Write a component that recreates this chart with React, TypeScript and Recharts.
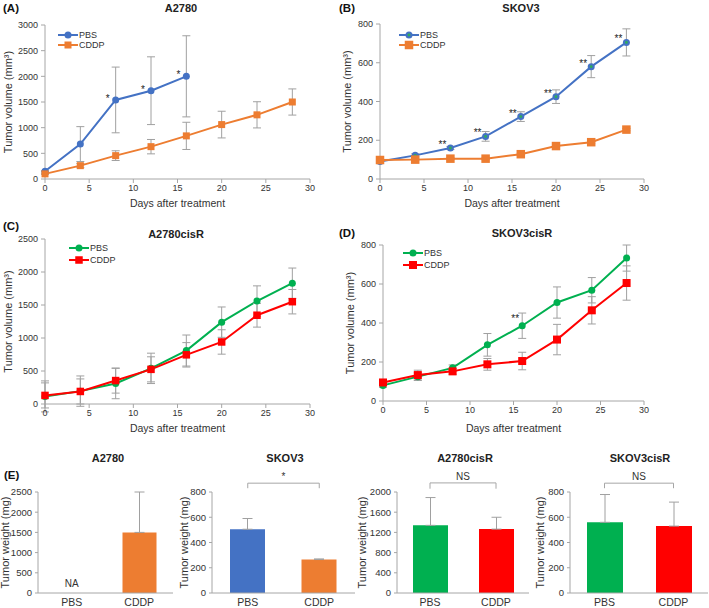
import React from "react";
import {
  LineChart,
  Line,
  XAxis,
  YAxis,
  ErrorBar,
  LabelList,
  Legend,
  BarChart,
  Bar,
  Cell,
  ReferenceLine,
  ReferenceDot,
} from "recharts";

const FONT = '"Liberation Sans", Arial, sans-serif';
const BLUE = "#4472C4";
const ORANGE = "#ED7D31";
const GREEN = "#00B050";
const RED = "#FF0000";
const AXIS = "#a6a6a6";
const ERR = "#a0a0a0";

// x values (days after treatment)
const days = [0, 4, 8, 12, 16, 20, 24, 28];
const dayTicks = [0, 5, 10, 15, 20, 25, 30];

// (A) A2780
const a2780Pbs = [150, 680, 1540, 1720, 2000, null, null, null];
const a2780PbsErr = [10, 340, 640, 660, 790, null, null, null];
const a2780Sig = ["", "", "*", "*", "*", "", "", ""];
const a2780Cddp = [100, 260, 455, 630, 840, 1060, 1250, 1500];
const a2780CddpErr = [10, 40, 95, 140, 265, 260, 255, 255];

// (B) SKOV3
const skov3Pbs = [90, 122, 160, 220, 322, 425, 580, 705];
const skov3PbsErr = [5, 8, 8, 25, 25, 35, 57, 70];
const skov3Sig = ["", "", "**", "**", "**", "**", "**", "**"];
const skov3Cddp = [98, 100, 105, 105, 128, 170, 190, 255];
const skov3CddpErr = [5, 5, 5, 5, 5, 6, 6, 6];

// (C) A2780cisR
const a2780cisPbs = [115, 195, 310, 540, 810, 1240, 1560, 1830];
const a2780cisPbsErr = [235, 230, 230, 230, 235, 230, 230, 230];
const a2780cisCddp = [130, 190, 355, 525, 745, 940, 1345, 1550];
const a2780cisCddpErr = [190, 190, 190, 190, 185, 185, 180, 185];

// (D) SKOV3cisR
const skov3cisPbs = [80, 125, 170, 288, 386, 505, 568, 733];
const skov3cisPbsErr = [10, 20, 15, 58, 65, 80, 65, 67];
const skov3cisSig = ["", "", "", "", "**", "", "", ""];
const skov3cisCddp = [95, 133, 152, 188, 205, 315, 465, 605];
const skov3cisCddpErr = [10, 25, 15, 30, 45, 78, 70, 88];

// (E) tumor weight
const groups = ["PBS", "CDDP"];
const wA2780 = [null, 1500];
const wA2780Err = [null, 1000];
const wSkov3 = [505, 265];
const wSkov3Err = [85, 5];
const wA2780cis = [1340, 1265];
const wA2780cisErr = [550, 235];
const wSkov3cis = [560, 530];
const wSkov3cisErr = [220, 190];

const range = (max: number, step: number) => {
  const out: number[] = [];
  for (let v = 0; v <= max; v += step) out.push(v);
  return out;
};

const circleDot = (color: string, r: number, inner?: string) => (p: any) => {
  if (typeof p.cy !== "number" || isNaN(p.cy) || p.value == null)
    return <g key={`c${p.index}`} />;
  return (
    <g key={`c${p.index}`}>
      <circle cx={p.cx} cy={p.cy} r={r} fill={color} />
      {inner && <circle cx={p.cx} cy={p.cy} r={r * 0.4} fill={inner} />}
    </g>
  );
};

const squareDot = (color: string, s: number) => (p: any) => {
  if (typeof p.cy !== "number" || isNaN(p.cy) || p.value == null)
    return <g key={`s${p.index}`} />;
  return <rect key={`s${p.index}`} x={p.cx - s / 2} y={p.cy - s / 2} width={s} height={s} fill={color} />;
};

const LegendBox = ({ pbsColor, cddpColor, r, s, row, inner }: any) => (
  <div style={{ fontFamily: FONT, fontSize: 9, lineHeight: `${row}px`, color: "#333" }}>
    {[
      { name: "PBS", color: pbsColor, kind: "c" },
      { name: "CDDP", color: cddpColor, kind: "s" },
    ].map((it) => (
      <div key={it.name} style={{ display: "flex", alignItems: "center", height: row, overflow: "visible" }}>
        <svg width={20} height={row} style={{ display: "block", overflow: "visible" }}>
          <line x1={0} x2={20} y1={row / 2} y2={row / 2} stroke={it.color} strokeWidth={2} />
          {it.kind === "c" ? (
            <>
              <circle cx={10} cy={row / 2} r={r} fill={it.color} />
              {inner && <circle cx={10} cy={row / 2} r={r * 0.4} fill={inner} />}
            </>
          ) : (
            <rect x={10 - s / 2} y={row / 2 - s / 2} width={s} height={s} fill={it.color} />
          )}
        </svg>
        <span style={{ marginLeft: 1, lineHeight: `${row}px`, height: row }}>{it.name}</span>
      </div>
    ))}
  </div>
);

const LinePanel = (c: any) => {
  const rows = days.map((d, i) => ({
    day: d,
    pbs: c.pbs[i],
    pbsErr: c.pbsErr[i],
    cddp: c.cddp[i],
    cddpErr: c.cddpErr[i],
    sig: c.sig ? c.sig[i] : "",
  }));
  const tick = { fontSize: 9, fill: "#333", fontFamily: FONT };
  return (
    <div style={{ position: "absolute", left: c.left, top: c.top }}>
      <LineChart width={c.width} height={c.height} data={rows} margin={c.margin}>
        <XAxis
          type="number"
          dataKey="day"
          domain={[0, 30]}
          ticks={dayTicks}
          height={30}
          stroke={AXIS}
          tickSize={4}
          tickMargin={2}
          tick={tick}
          label={{
            value: "Days after treatment",
            position: "insideBottom",
            offset: c.xLabelOffset,
            style: { fontSize: 10.5, fill: "#333", fontFamily: FONT },
          }}
        />
        <YAxis
          domain={[0, c.yMax]}
          ticks={c.yTicks}
          allowDataOverflow
          width={c.yWidth}
          stroke={AXIS}
          tickSize={4}
          tickMargin={3}
          tick={tick}
          label={{
            value: "Tumor volume (mm³)",
            angle: -90,
            position: "insideLeft",
            offset: c.yLabelOffset,
            style: { textAnchor: "middle", fontSize: 11, fill: "#333", fontFamily: FONT },
          }}
        />
        <Legend
          layout="vertical"
          align="center"
          verticalAlign="middle"
          wrapperStyle={{ left: c.legendLeft, top: c.legendTop, width: "auto", height: "auto" }}
          content={() => (
            <LegendBox
              pbsColor={c.pbsColor}
              cddpColor={c.cddpColor}
              r={c.circleR}
              s={c.squareS}
              row={c.legendRow}
              inner={c.pbsInner}
            />
          )}
        />
        <Line
          dataKey="pbs"
          stroke={c.pbsColor}
          strokeWidth={2}
          dot={circleDot(c.pbsColor, c.circleR, c.pbsInner)}
          activeDot={false}
          isAnimationActive={false}
        >
          <ErrorBar dataKey="pbsErr" direction="y" width={4} stroke={ERR} strokeWidth={1} />
          <LabelList
            dataKey="sig"
            content={(p: any) =>
              p.value ? (
                <text
                  key={`sig${p.index}`}
                  x={p.x + c.starDx}
                  y={p.y + c.starDy}
                  textAnchor="middle"
                  fontSize={10}
                  fontFamily={FONT}
                  fill="#222"
                >
                  {p.value}
                </text>
              ) : null
            }
          />
        </Line>
        <Line
          dataKey="cddp"
          stroke={c.cddpColor}
          strokeWidth={2}
          dot={squareDot(c.cddpColor, c.squareS)}
          activeDot={false}
          isAnimationActive={false}
        >
          <ErrorBar dataKey="cddpErr" direction="y" width={4} stroke={ERR} strokeWidth={1} />
        </Line>
      </LineChart>
    </div>
  );
};

const BarPanel = (c: any) => {
  const rows = groups.map((g, i) => ({
    group: g,
    value: c.values[i],
    err: c.values[i] == null ? null : [0, c.errs[i]],
  }));
  const labelStyle = { fontSize: 10, fill: "#333", fontFamily: FONT };
  return (
    <div style={{ position: "absolute", left: c.left, top: c.top }}>
      <BarChart width={c.width} height={c.height} data={rows} margin={c.margin}>
        <XAxis
          dataKey="group"
          height={15}
          stroke={AXIS}
          tickLine={false}
          tickSize={4}
          tickMargin={2}
          tick={{ fontSize: 10.5, fill: "#333", fontFamily: FONT }}
        />
        <YAxis
          domain={[0, c.yMax]}
          ticks={c.yTicks}
          allowDataOverflow
          width={c.yWidth}
          stroke={AXIS}
          tickSize={3}
          tickMargin={3}
          tick={{ fontSize: 9.5, fill: "#333", fontFamily: FONT }}
          label={{
            value: "Tumor weight (mg)",
            angle: -90,
            position: "insideLeft",
            offset: c.yLabelOffset,
            style: { textAnchor: "middle", fontSize: 11, fill: "#333", fontFamily: FONT },
          }}
        />
        <Bar dataKey="value" barSize={c.barSize} isAnimationActive={false}>
          {rows.map((r, i) => (
            <Cell key={r.group} fill={c.colors[i]} />
          ))}
          <ErrorBar dataKey="err" direction="y" width={5} stroke={ERR} strokeWidth={1} />
        </Bar>
        {c.bracket && (
          <ReferenceLine
            ifOverflow="visible"
            stroke="#a6a6a6"
            segment={[
              { x: "PBS", y: c.bracket.top },
              { x: "CDDP", y: c.bracket.top },
            ]}
            label={{ value: c.bracket.text, position: "top", offset: 3, style: labelStyle }}
          />
        )}
        {c.bracket && (
          <ReferenceLine
            ifOverflow="visible"
            stroke="#a6a6a6"
            segment={[
              { x: "PBS", y: c.bracket.top },
              { x: "PBS", y: c.bracket.foot },
            ]}
          />
        )}
        {c.bracket && (
          <ReferenceLine
            ifOverflow="visible"
            stroke="#a6a6a6"
            segment={[
              { x: "CDDP", y: c.bracket.top },
              { x: "CDDP", y: c.bracket.foot },
            ]}
          />
        )}
        {c.na && (
          <ReferenceDot
            x="PBS"
            y={0}
            r={0}
            stroke="none"
            fill="none"
            label={{ value: "NA", position: "top", offset: 6, style: labelStyle }}
          />
        )}
      </BarChart>
    </div>
  );
};

const Title = ({ x, y, text }: { x: number; y: number; text: string }) => (
  <div
    style={{
      position: "absolute",
      left: x - 70,
      top: y - 7,
      width: 140,
      textAlign: "center",
      fontSize: 11,
      fontWeight: "bold",
      lineHeight: "14px",
      color: "#222",
    }}
  >
    {text}
  </div>
);

const Tag = ({ x, y, text }: { x: number; y: number; text: string }) => (
  <div
    style={{
      position: "absolute",
      left: x,
      top: y - 7,
      fontSize: 11.5,
      fontWeight: "bold",
      lineHeight: "14px",
      color: "#111",
    }}
  >
    {text}
  </div>
);

export default function App() {
  return (
    <div
      style={{
        position: "absolute",
        left: 0,
        top: 0,
        width: 709,
        height: 608,
        background: "#fff",
        fontFamily: FONT,
        overflow: "hidden",
      }}
    >
      <LinePanel
        left={0}
        top={0}
        width={330}
        height={212}
        margin={{ top: 25, right: 20, bottom: 3, left: 0 }}
        yWidth={45}
        yMax={3000}
        yTicks={range(3000, 500)}
        pbs={a2780Pbs}
        pbsErr={a2780PbsErr}
        sig={a2780Sig}
        cddp={a2780Cddp}
        cddpErr={a2780CddpErr}
        pbsColor={BLUE}
        cddpColor={ORANGE}
        circleR={3.5}
        squareS={7}
        legendLeft={58}
        legendTop={30}
        legendRow={10}
        yLabelOffset={8}
        xLabelOffset={2}
        starDx={-8}
        starDy={2}
      />
      <LinePanel
        left={335}
        top={0}
        width={330}
        height={212}
        margin={{ top: 24, right: 21, bottom: 3, left: 0 }}
        yWidth={45}
        yMax={800}
        yTicks={range(800, 200)}
        pbs={skov3Pbs}
        pbsErr={skov3PbsErr}
        sig={skov3Sig}
        cddp={skov3Cddp}
        cddpErr={skov3CddpErr}
        pbsColor={BLUE}
        pbsInner="#2fae5a"
        cddpColor={ORANGE}
        circleR={3.5}
        squareS={8.5}
        legendLeft={64}
        legendTop={30}
        legendRow={10}
        yLabelOffset={12}
        xLabelOffset={2}
        starDx={-8}
        starDy={0}
      />
      <LinePanel
        left={0}
        top={212}
        width={330}
        height={228}
        margin={{ top: 27, right: 20, bottom: 6, left: 0 }}
        yWidth={45}
        yMax={2500}
        yTicks={range(2500, 500)}
        pbs={a2780cisPbs}
        pbsErr={a2780cisPbsErr}
        cddp={a2780cisCddp}
        cddpErr={a2780cisCddpErr}
        pbsColor={GREEN}
        cddpColor={RED}
        circleR={3.5}
        squareS={7.5}
        legendLeft={69}
        legendTop={30}
        legendRow={12}
        yLabelOffset={8}
        xLabelOffset={2}
        starDx={-8}
        starDy={0}
      />
      <LinePanel
        left={335}
        top={212}
        width={330}
        height={228}
        margin={{ top: 33, right: 21, bottom: 9, left: 0 }}
        yWidth={48}
        yMax={800}
        yTicks={range(800, 200)}
        pbs={skov3cisPbs}
        pbsErr={skov3cisPbsErr}
        sig={skov3cisSig}
        cddp={skov3cisCddp}
        cddpErr={skov3cisCddpErr}
        pbsColor={GREEN}
        cddpColor={RED}
        circleR={3.5}
        squareS={8}
        legendLeft={68}
        legendTop={35}
        legendRow={12}
        yLabelOffset={15}
        xLabelOffset={-1}
        starDx={-7}
        starDy={-4}
      />

      <BarPanel
        left={0}
        top={470}
        width={180}
        height={138}
        margin={{ top: 22, right: 7, bottom: 0, left: 0 }}
        yWidth={38}
        yMax={2500}
        yTicks={range(2500, 500)}
        values={wA2780}
        errs={wA2780Err}
        colors={[BLUE, ORANGE]}
        barSize={34}
        yLabelOffset={5}
        na
      />
      <BarPanel
        left={170}
        top={470}
        width={190}
        height={138}
        margin={{ top: 22, right: 5, bottom: 0, left: 0 }}
        yWidth={42}
        yMax={800}
        yTicks={range(800, 200)}
        values={wSkov3}
        errs={wSkov3Err}
        colors={[BLUE, ORANGE]}
        barSize={35}
        yLabelOffset={14}
        bracket={{ top: 870, foot: 830, text: "*" }}
      />
      <BarPanel
        left={355}
        top={470}
        width={180}
        height={138}
        margin={{ top: 22, right: 6, bottom: 0, left: 0 }}
        yWidth={42}
        yMax={2000}
        yTicks={range(2000, 400)}
        values={wA2780cis}
        errs={wA2780cisErr}
        colors={[GREEN, RED]}
        barSize={35}
        yLabelOffset={7}
        bracket={{ top: 2180, foot: 2065, text: "NS" }}
      />
      <BarPanel
        left={530}
        top={470}
        width={179}
        height={138}
        margin={{ top: 22, right: 1, bottom: 0, left: 0 }}
        yWidth={40}
        yMax={800}
        yTicks={range(800, 200)}
        values={wSkov3cis}
        errs={wSkov3cisErr}
        colors={[GREEN, RED]}
        barSize={36}
        yLabelOffset={10}
        bracket={{ top: 870, foot: 830, text: "NS" }}
      />

      <Tag x={3} y={8} text="(A)" />
      <Tag x={339} y={8} text="(B)" />
      <Tag x={3} y={226} text="(C)" />
      <Tag x={339} y={233} text="(D)" />
      <Tag x={4} y={475} text="(E)" />
      <Title x={181} y={8} text="A2780" />
      <Title x={521} y={8} text="SKOV3" />
      <Title x={176} y={234} text="A2780cisR" />
      <Title x={522} y={233} text="SKOV3cisR" />
      <Title x={108} y={458} text="A2780" />
      <Title x={285} y={458} text="SKOV3" />
      <Title x={465} y={458} text="A2780cisR" />
      <Title x={640} y={458} text="SKOV3cisR" />
    </div>
  );
}
